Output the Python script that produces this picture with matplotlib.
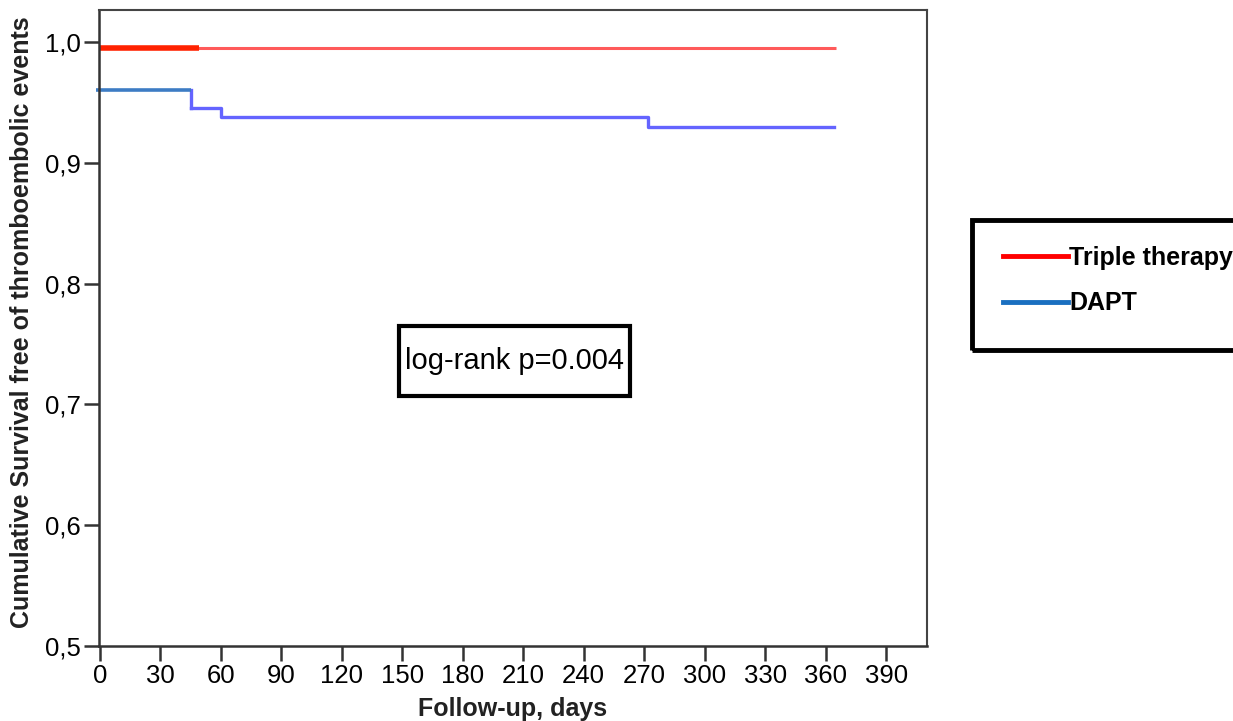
import matplotlib
matplotlib.use("Agg")
import matplotlib.pyplot as plt
from matplotlib.lines import Line2D
from matplotlib.patches import Rectangle

plt.rcParams['font.family'] = ['Liberation Sans', 'DejaVu Sans']

# Data
triple_t = [0, 365]
triple_s = [0.995, 0.995]
triple_thick_end = 49
dapt_t = [-2, 45, 60, 272, 364]
dapt_s = [0.96, 0.945, 0.938, 0.93, 0.93]
xticks = [0, 30, 60, 90, 120, 150, 180, 210, 240, 270, 300, 330, 360, 390]
yticks = [0.5, 0.6, 0.7, 0.8, 0.9, 1.0]
ytick_labels = ["0,5", "0,6", "0,7", "0,8", "0,9", "1,0"]
series_labels = ["Triple therapy", "DAPT"]
pvalue_text = "log-rank p=0.004"

W, H = 1233, 721
fig = plt.figure(figsize=(W / 100, H / 100), dpi=100)
ax = fig.add_axes([99 / W, 1 - 646 / H, (927 - 99) / W, (646 - 10) / H])

# Triple therapy
ax.plot(triple_t, triple_s, color='#ff5a5a', lw=2.2, solid_capstyle='butt')
ax.plot([triple_t[0], triple_thick_end], [triple_s[0], triple_s[0]],
        color='#ff2200', lw=4, solid_capstyle='butt')

# DAPT
ax.step(dapt_t[1:], dapt_s[1:], where='post', color='#6464ff', lw=2.4)
ax.plot([dapt_t[1], dapt_t[1]], [dapt_s[0], dapt_s[1]], color='#6464ff', lw=2.4)
ax.plot([dapt_t[0], dapt_t[1]], [dapt_s[0], dapt_s[0]], color='#3d7cc4', lw=2.6,
        solid_capstyle='butt', clip_on=False)

ax.set_xlim(-0.5, 410.3)
ax.set_ylim(0.5, 1.0265)
ax.set_xticks(xticks)
ax.set_xticklabels([str(v) for v in xticks])
ax.set_yticks(yticks)
ax.set_yticklabels(ytick_labels)
ax.tick_params(axis='both', direction='out', length=11, width=1.8, color='#333333',
               labelsize=18.5, pad=2)
for s in ['left', 'bottom']:
    ax.spines[s].set_color('#333333')
    ax.spines[s].set_linewidth(1.8)
for s in ['top', 'right']:
    ax.spines[s].set_color('#444444')
    ax.spines[s].set_linewidth(1.5)

ax.set_xlabel("Follow-up, days", fontsize=18, fontweight='bold', color='#222222')
ax.xaxis.set_label_coords(0.5, -(709 - 646) / 636)
ax.xaxis.label.set_va('center')
ax.set_ylabel("Cumulative Survival free of thromboembolic events", fontsize=18,
              fontweight='bold', color='#222222')
ax.yaxis.set_label_coords(-(99 - 34) / 828, (646 - 322) / 636)

# p-value box
ax.add_patch(Rectangle((0.3623, 0.3931), 0.279, 0.110, transform=ax.transAxes,
                       fill=True, facecolor='white', edgecolor='black', lw=3, zorder=5))
ax.text(0.3623 + 0.1395, 0.3931 + 0.055, pvalue_text, transform=ax.transAxes,
        ha='center', va='center', fontsize=21, zorder=6)

# Legend (frame drawn separately)
fig.add_artist(Rectangle((972 / W, 1 - 350 / H), 300 / W, 130 / H,
                         transform=fig.transFigure, fill=False,
                         edgecolor='black', lw=3.5))
handles = [Line2D([], [], color='#ff0000', lw=3.5),
           Line2D([], [], color='#1a6fc0', lw=3.5)]
leg = fig.legend(handles, series_labels, loc='upper left',
                 bbox_to_anchor=(1003 / W, 1 - 246 / H),
                 prop={'size': 18, 'weight': 'bold'}, handlelength=2.6,
                 handletextpad=0.05, borderpad=0, labelspacing=0.85,
                 borderaxespad=0, frameon=False)

fig.savefig("out.png", dpi=100)
